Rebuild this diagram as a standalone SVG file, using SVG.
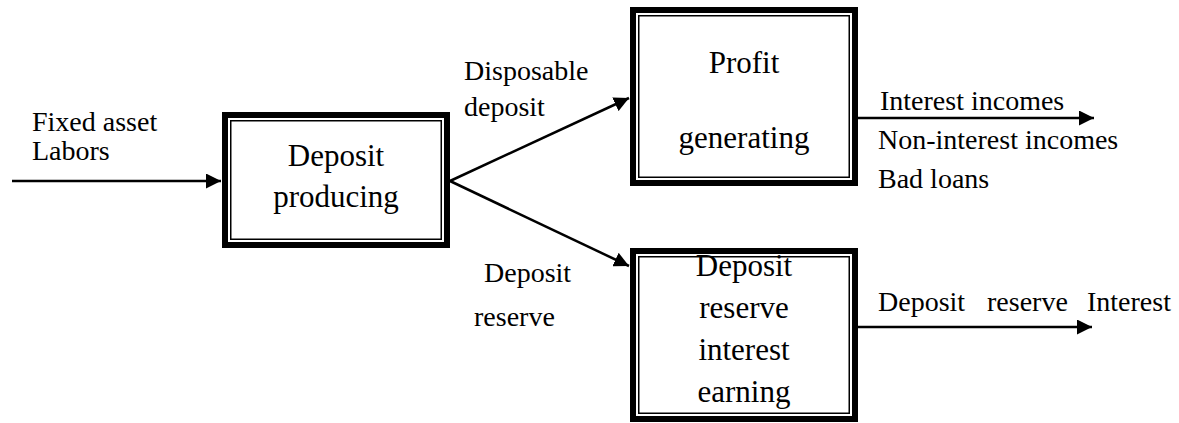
<svg xmlns="http://www.w3.org/2000/svg" width="1179" height="423" viewBox="0 0 1179 423">
<style>
.outer{fill:none;stroke:#000;stroke-width:6}
.inner{fill:none;stroke:#000;stroke-width:1.5}
.bt{font-size:31px;text-anchor:middle}
.lt{font-size:28px}
.edge{fill:none;stroke:#000;stroke-width:2.5}
</style>
<defs>
<marker id="ah" viewBox="0 0 10 10" refX="10" refY="5" markerWidth="6" markerHeight="6" markerUnits="strokeWidth" orient="auto">
<path d="M0,0 L10,5 L0,10 z" fill="#000"/>
</marker>
</defs>
<rect width="1179" height="423" fill="#fff"/>
<g id="connectors">
<line class="edge" x1="12" y1="181" x2="221" y2="181" marker-end="url(#ah)"/>
<line class="edge" x1="450" y1="181" x2="629" y2="98" marker-end="url(#ah)"/>
<line class="edge" x1="450" y1="181" x2="629" y2="266" marker-end="url(#ah)"/>
<line class="edge" x1="858" y1="118" x2="1094" y2="118" marker-end="url(#ah)"/>
<line class="edge" x1="858" y1="327" x2="1092" y2="327" marker-end="url(#ah)"/>
</g>
<g font-family="Liberation Serif, Times New Roman, serif" fill="#000">
<g id="node-deposit-producing">
<rect class="outer" x="225" y="115" width="222" height="130"/>
<rect class="inner" x="230.75" y="120.75" width="210.5" height="118.5"/>
<text class="bt" x="336" y="166">Deposit</text>
<text class="bt" x="336" y="207">producing</text>
</g>
<g id="node-profit-generating">
<rect class="outer" x="633" y="10" width="222" height="173"/>
<rect class="inner" x="638.75" y="15.75" width="210.5" height="161.5"/>
<text class="bt" x="744" y="73">Profit</text>
<text class="bt" x="744" y="148">generating</text>
</g>
<g id="node-deposit-reserve">
<rect class="outer" x="633" y="251" width="222" height="168"/>
<rect class="inner" x="638.75" y="256.75" width="210.5" height="156.5"/>
<text class="bt" x="744" y="276">Deposit</text>
<text class="bt" x="744" y="318">reserve</text>
<text class="bt" x="744" y="360">interest</text>
<text class="bt" x="744" y="402">earning</text>
</g>
<g id="labels">
<text class="lt" x="32" y="131">Fixed asset</text>
<text class="lt" x="32" y="160">Labors</text>
<text class="lt" x="464" y="80">Disposable</text>
<text class="lt" x="464" y="116">deposit</text>
<text class="lt" x="484" y="282">Deposit</text>
<text class="lt" x="474" y="326">reserve</text>
<text class="lt" x="880" y="110">Interest incomes</text>
<text class="lt" x="878" y="149">Non-interest incomes</text>
<text class="lt" x="878" y="188">Bad loans</text>
<text class="lt" x="878" y="311">Deposit</text>
<text class="lt" x="987" y="311">reserve</text>
<text class="lt" x="1087" y="311">Interest</text>
</g>
</g>
</svg>
